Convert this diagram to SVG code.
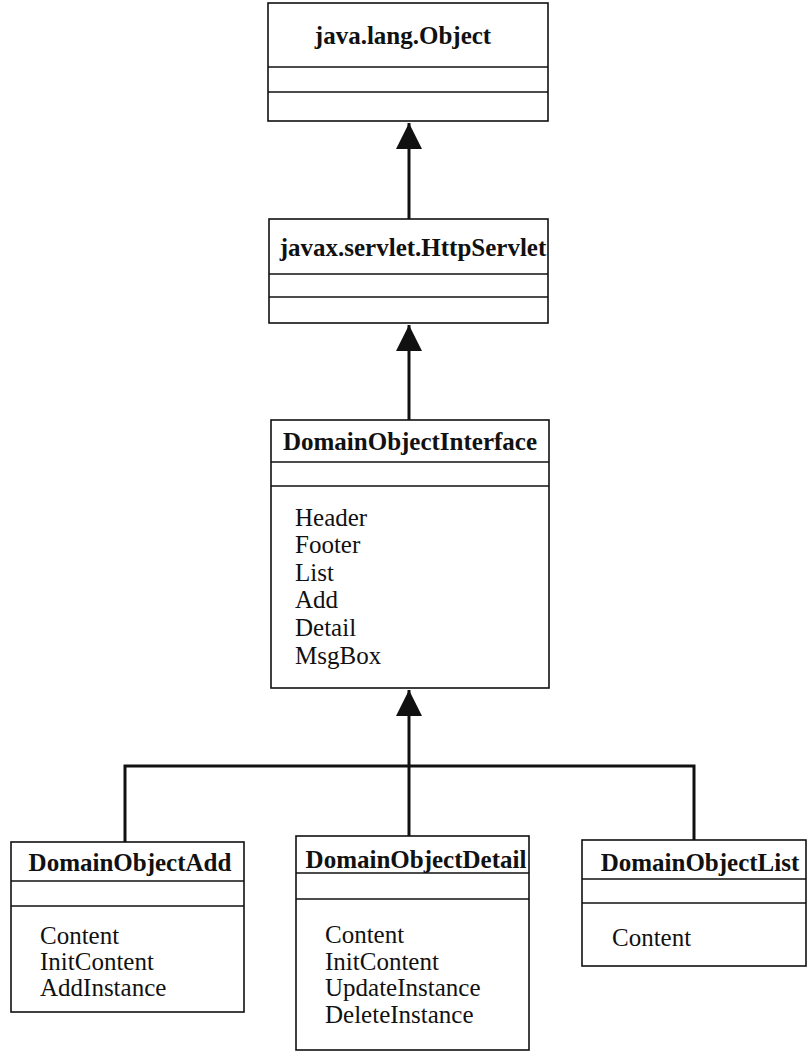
<svg xmlns="http://www.w3.org/2000/svg" width="808" height="1056" viewBox="0 0 808 1056">
<style>
.box{fill:#fff;stroke:#111;stroke-width:1.6}
.div{stroke:#111;stroke-width:1.4}
.t{font-family:"Liberation Serif","Times New Roman",serif;font-size:25px;font-weight:bold;fill:#111;text-anchor:middle}
.i{font-family:"Liberation Serif","Times New Roman",serif;font-size:25px;fill:#111}
.c{fill:none;stroke:#111;stroke-width:3}
</style>
<defs>
<marker id="tri" markerUnits="userSpaceOnUse" markerWidth="28" markerHeight="28" refX="26" refY="13" orient="auto">
<path d="M0,0 L26,13 L0,26 Z" fill="#111"/>
</marker>
</defs>
<g id="connectors">
<line class="c" x1="409" y1="219" x2="409" y2="123" marker-end="url(#tri)"/>
<line class="c" x1="409" y1="420" x2="409" y2="325" marker-end="url(#tri)"/>
<line class="c" x1="409" y1="836" x2="409" y2="690" marker-end="url(#tri)"/>
<polyline class="c" points="125,842 125,766 694,766 694,840"/>
</g>
<g id="object">
<rect class="box" x="268" y="3" width="280" height="118"/>
<line class="div" x1="268" y1="67" x2="548" y2="67"/>
<line class="div" x1="268" y1="92" x2="548" y2="92"/>
<text class="t" x="403" y="44">java.lang.Object</text>
</g>
<g id="httpservlet">
<rect class="box" x="269" y="219" width="279" height="104"/>
<line class="div" x1="269" y1="274" x2="548" y2="274"/>
<line class="div" x1="269" y1="297" x2="548" y2="297"/>
<text class="t" x="413" y="256">javax.servlet.HttpServlet</text>
</g>
<g id="interface">
<rect class="box" x="271" y="420" width="278" height="268"/>
<line class="div" x1="271" y1="462" x2="549" y2="462"/>
<line class="div" x1="271" y1="486" x2="549" y2="486"/>
<text class="t" x="410" y="450">DomainObjectInterface</text>
<text class="i" x="295" y="526">Header</text>
<text class="i" x="295" y="553">Footer</text>
<text class="i" x="295" y="581">List</text>
<text class="i" x="295" y="608">Add</text>
<text class="i" x="295" y="636">Detail</text>
<text class="i" x="295" y="664">MsgBox</text>
</g>
<g id="add">
<rect class="box" x="11" y="842" width="233" height="170"/>
<line class="div" x1="11" y1="881" x2="244" y2="881"/>
<line class="div" x1="11" y1="906" x2="244" y2="906"/>
<text class="t" x="130" y="871">DomainObjectAdd</text>
<text class="i" x="40" y="944">Content</text>
<text class="i" x="40" y="970">InitContent</text>
<text class="i" x="40" y="996">AddInstance</text>
</g>
<g id="detail">
<rect class="box" x="296" y="836" width="233" height="214"/>
<line class="div" x1="296" y1="873" x2="529" y2="873"/>
<line class="div" x1="296" y1="899" x2="529" y2="899"/>
<text class="t" x="416" y="868">DomainObjectDetail</text>
<text class="i" x="325" y="943">Content</text>
<text class="i" x="325" y="970">InitContent</text>
<text class="i" x="325" y="996">UpdateInstance</text>
<text class="i" x="325" y="1023">DeleteInstance</text>
</g>
<g id="list">
<rect class="box" x="582" y="840" width="224" height="126"/>
<line class="div" x1="582" y1="879" x2="806" y2="879"/>
<line class="div" x1="582" y1="903" x2="806" y2="903"/>
<text class="t" x="700" y="871">DomainObjectList</text>
<text class="i" x="612" y="946">Content</text>
</g>
</svg>
